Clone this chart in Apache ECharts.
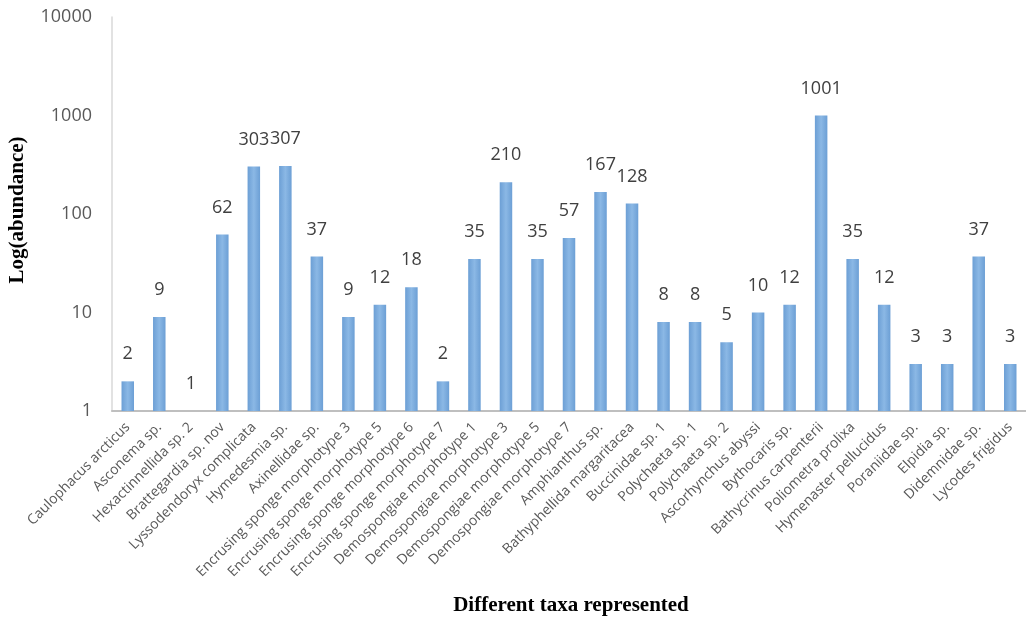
<!DOCTYPE html>
<html>
<head>
<meta charset="utf-8">
<script src="https://cdn.jsdelivr.net/npm/echarts@6/dist/echarts.min.js"></script>
<style>
html,body{margin:0;padding:0;background:#fff;}
#chart{width:1026px;height:619px;}
</style>
</head>
<body>
<div id="chart"></div>
<script>
const categories = [
  "Caulophacus arcticus", "Asconema sp.", "Hexactinnellida sp. 2", "Brattegardia sp. nov",
  "Lyssodendoryx complicata", "Hymedesmia sp.", "Axinellidae sp.",
  "Encrusing sponge morphotype 3", "Encrusing sponge morphotype 5", "Encrusing sponge morphotype 6",
  "Encrusing sponge morphotype 7", "Demospongiae morphotype 1", "Demospongiae morphotype 3",
  "Demospongiae morphotype 5", "Demospongiae morphotype 7", "Amphianthus sp.",
  "Bathyphellida margaritacea", "Buccinidae sp. 1", "Polychaeta sp. 1", "Polychaeta sp. 2",
  "Ascorhynchus abyssi", "Bythocaris sp.", "Bathycrinus carpenterii", "Poliometra prolixa",
  "Hymenaster pellucidus", "Poraniidae sp.", "Elpidia sp.", "Didemnidae sp.", "Lycodes frigidus"
];
const abundance = [2, 9, 1, 62, 303, 307, 37, 9, 12, 18, 2, 35, 210, 35, 57, 167, 128, 8, 8, 5, 10, 12, 1001, 35, 12, 3, 3, 37, 3];
const yTitle = "Log(abundance)";
const xTitle = "Different taxa represented";

const chart = echarts.init(document.getElementById('chart'), null, {renderer: 'canvas'});
chart.setOption({
  animation: false,
  backgroundColor: '#ffffff',
  grid: {left: 112, top: 17, width: 918, height: 394, containLabel: false},
  xAxis: {
    type: 'category',
    data: categories,
    axisLine: {show: true, lineStyle: {color: '#bfbfbf', width: 2}},
    axisTick: {show: false},
    axisLabel: {
      interval: 0, rotate: 45, margin: 14,
      fontFamily: 'Open Sans', fontSize: 14, color: '#595959'
    },
    splitLine: {show: false}
  },
  yAxis: {
    type: 'log',
    logBase: 10,
    min: 1,
    max: 10000,
    axisLine: {show: true, lineStyle: {color: '#d9d9d9', width: 1.5}},
    axisTick: {show: false},
    splitLine: {show: false},
    axisLabel: {
      margin: 20, fontFamily: 'Open Sans', fontSize: 18, color: '#595959',
      formatter: function (v) { return String(Math.round(v)); }
    }
  },
  series: [{
    type: 'bar',
    data: abundance,
    barWidth: 12.5,
    itemStyle: {
      color: new echarts.graphic.LinearGradient(0, 0, 1, 0, [
        {offset: 0, color: '#6c9fd5'},
        {offset: 0.5, color: '#8bb8e5'},
        {offset: 1, color: '#6c9fd5'}
      ])
    },
    label: {
      show: true, position: 'top', distance: 18,
      fontFamily: 'Open Sans', fontSize: 18, color: '#404040'
    }
  }],
  graphic: [
    {
      type: 'text', x: 18, y: 210, rotation: Math.PI / 2,
      style: {
        text: yTitle, font: 'bold 21px "Liberation Serif", "Times New Roman", serif',
        fill: '#000', align: 'center', verticalAlign: 'middle'
      }
    },
    {
      type: 'text', x: 571, y: 606,
      style: {
        text: xTitle, font: 'bold 21px "Liberation Serif", "Times New Roman", serif',
        fill: '#000', align: 'center', verticalAlign: 'middle'
      }
    }
  ]
});
</script>
</body>
</html>
